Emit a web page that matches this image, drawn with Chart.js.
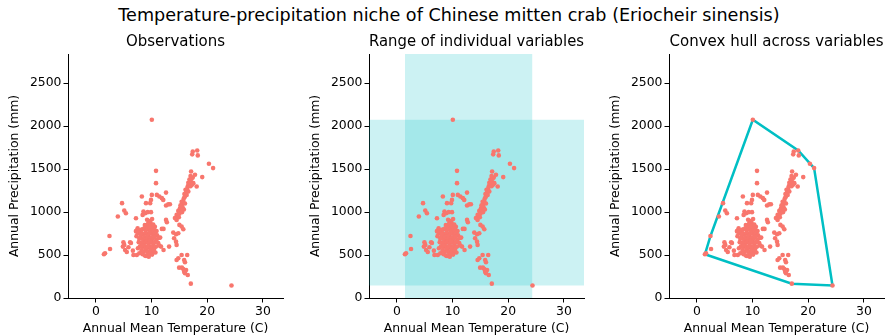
<!DOCTYPE html>
<html>
<head>
<meta charset="utf-8">
<script src="https://cdn.jsdelivr.net/npm/chart.js@4.4.1/dist/chart.umd.min.js"></script>
<style>
body { margin: 0; width: 887px; height: 336px; background: #fff; position: relative; overflow: hidden; font-family: "DejaVu Sans"; }
#suptitle { position: absolute; left: 0; top: 5px; width: 898px; text-align: center; font-size: 17.6px; line-height: 20px; color: #000; }
canvas { position: absolute; top: 28px; }
</style>
</head>
<body>
<div id="suptitle">Temperature-precipitation niche of Chinese mitten crab (Eriocheir sinensis)</div>
<canvas id="obs" width="290" height="308" style="left:1px"></canvas>
<canvas id="range" width="290" height="308" style="left:302px"></canvas>
<canvas id="hull" width="290" height="308" style="left:602px"></canvas>
<script>
// annual mean temperature (C) of each observation
const temperature = [
  10.05, 17.4, 18.2, 18.3, 17.3, 20.3, 21.05, 19.1, 10.8, 10.8, 17.1, 17.8, 17.4, 17.05, 17.5, 18.1,
  12.6, 10.95, 11.4, 11.85, 12.1, 10.05, 9.9, 8.26, 9.0, 9.75, 12.6, 13.3, 13.0, 4.7, 5.1, 5.4,
  3.95, 7.2, 8.55, 8.4, 8.85, 9.3, 9.9, 12.6, 12.75,
  14.5, 14.8, 15.1, 14.5, 15.0, 15.4, 15.7, 15.3, 15.5, 15.4, 15.7, 15.8, 16.0, 15.9, 16.2, 16.1,
  16.4, 16.5, 16.7, 16.6, 16.9, 16.8, 17.2, 17.0, 15.2, 15.0, 14.7, 15.6, 15.2, 16.3, 16.6, 17.0,
  17.3, 14.9, 15.5, 14.2, 16.0, 15.8,
  13.9, 14.4, 14.8, 14.05, 14.4, 14.5, 11.85, 12.15, 11.55, 11.7, 12.15, 13.15,
  14.8, 14.5, 15.4, 16.4, 15.85, 16.0, 14.95, 15.45, 15.7, 16.2, 15.85, 16.0, 16.5, 17.05, 24.35,
  2.45, 2.55, 1.45, 1.65, 4.95, 5.1, 4.85, 5.25, 5.55, 6.15, 5.85, 6.65, 6.75, 7.35, 7.8, 7.55,
  9.0, 7.5, 7.25, 7.95, 6.3,
  9.2, 9.6, 10.1, 9.8, 9.4,
  8.8, 9.1, 9.5, 9.9, 10.3, 10.6,
  8.3, 8.7, 9.0, 9.3, 9.6, 9.9, 10.2, 10.5, 10.9,
  8.2, 8.5, 8.9, 9.2, 9.5, 9.7, 10.0, 10.3, 10.6, 11.0,
  8.0, 8.4, 8.7, 9.0, 9.3, 9.6, 9.9, 10.2, 10.5, 10.9, 11.3,
  7.7, 8.1, 8.5, 8.8, 9.1, 9.4, 9.7, 10.0, 10.3, 10.6, 11.2,
  7.9, 8.3, 8.6, 9.0, 9.3, 9.6, 9.9, 10.2, 10.5, 10.8, 11.4,
  8.2, 8.6, 8.9, 9.2, 9.5, 9.8, 10.1, 10.4, 10.7,
  8.4, 8.8, 9.3, 9.7, 10.1, 9.5,
  7.2, 7.6, 7.3, 7.8, 8.0
];

// annual precipitation (mm), same order
const precipitation = [
  2075, 1705, 1717, 1660, 1672, 1562, 1512, 1407, 1480, 1337, 1472, 1434, 1402, 1356, 1337, 1297,
  1227, 1200, 1181, 1162, 1142, 1200, 1142, 1181, 1104, 1104, 1076, 1092, 1090, 1104, 1017, 987,
  948, 929, 1006, 967, 987, 999, 999, 909, 882,
  967, 1014, 1045, 909, 851, 831, 801, 1060, 1090, 1120, 1130, 1160, 1180, 1210, 1230, 1260,
  1270, 1300, 1320, 1340, 1350, 1380, 1390, 1420, 1010, 980, 950, 1050, 1080, 1200, 1240, 1300,
  1320, 940, 1000, 930, 1100, 1030,
  761, 742, 754, 696, 656, 618, 804, 804, 703, 598, 559, 598,
  463, 443, 501, 501, 443, 416, 353, 353, 338, 326, 306, 288, 268, 167, 145,
  722, 571, 509, 521, 649, 618, 598, 559, 536, 649, 591, 551, 501, 501, 521, 579,
  490, 812, 773, 785, 640,
  910, 895, 920, 880, 870,
  850, 845, 860, 840, 855, 830,
  800, 810, 790, 815, 800, 785, 805, 790, 780,
  755, 740, 760, 745, 735, 760, 750, 740, 755, 730,
  700, 690, 710, 695, 705, 685, 700, 690, 710, 680, 700,
  650, 640, 660, 645, 655, 640, 665, 650, 635, 650, 640,
  600, 590, 610, 600, 585, 605, 590, 600, 580, 600, 610,
  550, 540, 560, 545, 530, 555, 540, 560, 530,
  510, 495, 500, 515, 505, 480,
  780, 760, 720, 690, 740
];

const xTicks = [0, 10, 20, 30];
const yTicks = [0, 500, 1000, 1500, 2000, 2500];
const X_MIN = -5, X_MAX = 33.6;
const Y_MIN = 0, Y_MAX = 2840;

const FONT = "DejaVu Sans";
const POINT = "#F8766D";
const TEAL = "#00BFC4";

const points = temperature.map((t, i) => ({x: t, y: precipitation[i]}));

const tMin = Math.min(...temperature), tMax = Math.max(...temperature);
const pMin = Math.min(...precipitation), pMax = Math.max(...precipitation);

// convex hull (monotone chain)
function convexHull(pts) {
    const p = pts.slice().sort((a, b) => a.x - b.x || a.y - b.y);
    const cross = (o, a, b) => (a.x - o.x) * (b.y - o.y) - (a.y - o.y) * (b.x - o.x);
    const lower = [], upper = [];
    for (const q of p) {
        while (lower.length >= 2 && cross(lower[lower.length - 2], lower[lower.length - 1], q) <= 0) lower.pop();
        lower.push(q);
    }
    for (let i = p.length - 1; i >= 0; i--) {
        const q = p[i];
        while (upper.length >= 2 && cross(upper[upper.length - 2], upper[upper.length - 1], q) <= 0) upper.pop();
        upper.push(q);
    }
    upper.pop(); lower.pop();
    const h = lower.concat(upper);
    h.push(h[0]);
    return h;
}

function makeScales() {
    const tickFont = {family: FONT, size: 12.4};
    return {
        x: {
            type: "linear", min: X_MIN, max: X_MAX,
            afterFit: s => { s.height = 38; },
            afterBuildTicks: s => { s.ticks = xTicks.map(v => ({value: v})); },
            ticks: {font: tickFont, color: "#000", padding: 2, maxRotation: 0, callback: v => String(v)},
            grid: {display: true, drawOnChartArea: false, drawTicks: true, tickLength: 4.5, color: "#000"},
            border: {display: true, color: "#000", width: 1},
            title: {display: true, text: "Annual Mean Temperature (C)", font: tickFont, color: "#000", padding: {top: 0, bottom: 0}}
        },
        y: {
            type: "linear", min: Y_MIN, max: Y_MAX,
            afterFit: s => { s.width = 67; },
            afterBuildTicks: s => { s.ticks = yTicks.map(v => ({value: v})); },
            ticks: {font: tickFont, color: "#000", padding: 2, callback: v => String(v)},
            grid: {display: true, drawOnChartArea: false, drawTicks: true, tickLength: 4.5, color: "#000"},
            border: {display: true, color: "#000", width: 1},
            title: {display: true, text: "Annual Precipitation (mm)", font: tickFont, color: "#000", padding: {top: 6.5, bottom: 0}}
        }
    };
}

function pointSet() {
    return {type: "scatter", data: points, pointRadius: 2.3, pointBackgroundColor: POINT, pointBorderWidth: 0, order: 0};
}

function makeChart(id, title, extra) {
    new Chart(document.getElementById(id), {
        type: "scatter",
        data: {datasets: [pointSet()].concat(extra)},
        options: {
            responsive: false, animation: false, devicePixelRatio: 1,
            layout: {padding: {left: 0, right: 8, top: 0, bottom: 0}},
            scales: makeScales(),
            plugins: {
                legend: {display: false},
                tooltip: {enabled: false},
                title: {display: true, text: title, fullSize: false, font: {family: FONT, size: 15, weight: "normal"}, color: "#000", padding: {top: 5, bottom: 3}}
            }
        }
    });
}

makeChart("obs", "Observations", []);

makeChart("range", "Range of individual variables", [
    {
        type: "line", data: [{x: tMin, y: Y_MAX}, {x: tMax, y: Y_MAX}],
        fill: "origin", backgroundColor: "rgba(0,191,196,0.2)", borderWidth: 0, pointRadius: 0, order: 1
    },
    {
        type: "line", data: [{x: X_MIN, y: pMax}, {x: X_MAX, y: pMax}],
        fill: {value: pMin}, backgroundColor: "rgba(0,191,196,0.2)", borderWidth: 0, pointRadius: 0, order: 2
    }
]);

makeChart("hull", "Convex hull across variables", [
    {
        type: "scatter", data: convexHull(points), showLine: true,
        borderColor: TEAL, borderWidth: 2.5, pointRadius: 0, order: 1
    }
]);
</script>
</body>
</html>
